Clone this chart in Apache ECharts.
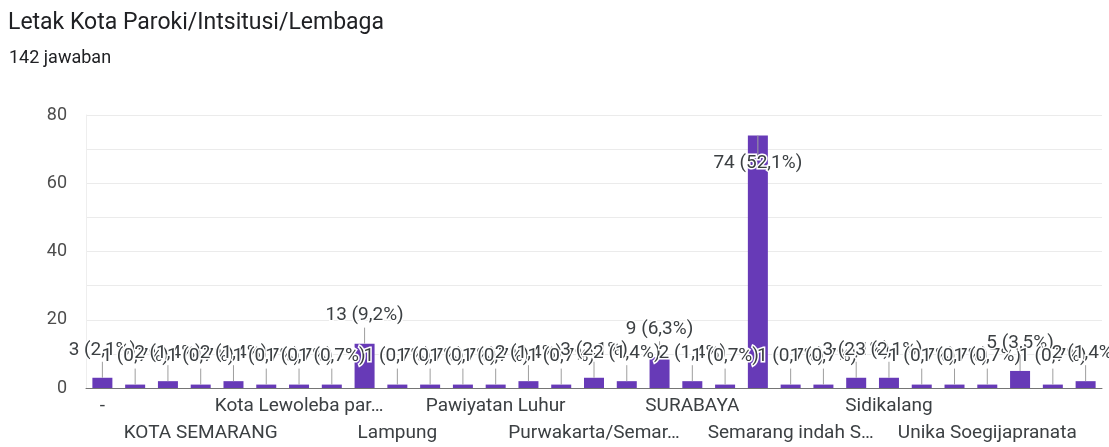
<!DOCTYPE html>
<html><head><meta charset="utf-8">
<script src="https://cdn.jsdelivr.net/npm/echarts@6/dist/echarts.min.js"></script>
<style>html,body{margin:0;padding:0;background:#fff}#c{width:1109px;height:447px}</style>
</head><body><div id="c"></div>
<script>
const titleText = 'Letak Kota Paroki/Intsitusi/Lembaga';
const subtitleText = '142 jawaban';
const categories = ['-', 'Bandung', 'Jakarta', 'KOTA SEMARANG', 'Kediri', 'Klaten',
  'Kota Lewoleba par…', 'Kota Malang', 'Kota Semarang', 'Lampung', 'Magelang', 'Malang',
  'Pawiyatan Luhur', 'Pekalongan', 'Pontianak', 'Purwakarta/Semar…', 'Purwokerto', 'SEMARANG',
  'SURABAYA', 'Salatiga', 'Semarang', 'Semarang indah S…', 'Semarang kota', 'Semarang, Jawa Tengah',
  'Sidikalang', 'Solo', 'Surakarta', 'Unika Soegijapranata', 'Yogyakarta', 'semarang', 'u…'];
const counts = [3, 1, 2, 1, 2, 1, 1, 1, 13, 1, 1, 1, 1, 2, 1, 3, 2, 9, 2, 1, 74, 1, 1, 3, 3, 1, 1, 1, 5, 1, 2];
const yTickLabels = [0, 20, 40, 60, 80];

const total = counts.reduce((a, b) => a + b, 0);
const FONT = 'Roboto, "Noto Sans", sans-serif';
function labelOf(v) { return v + ' (' + (v / total * 100).toFixed(1).replace('.', ',') + '%)'; }

const chart = echarts.init(document.getElementById('c'));
chart.setOption({
  animation: false,
  title: [
    { text: titleText, left: 3, top: 7, textStyle: { fontSize: 23, fontWeight: 'normal', color: '#202124', fontFamily: FONT } },
    { text: subtitleText, left: 4, top: 44, textStyle: { fontSize: 18, fontWeight: 'normal', color: '#202124', fontFamily: FONT } }
  ],
  grid: { left: 86, right: 7, top: 115, bottom: 47, containLabel: false },
  xAxis: {
    type: 'category', data: categories,
    axisTick: { show: false },
    axisLine: { lineStyle: { color: '#757575', width: 1 } },
    axisLabel: {
      interval: 2, margin: 5, fontSize: 19, lineHeight: 27, color: '#3c4043', fontFamily: FONT,
      formatter: function (val, idx) { return (Math.round(idx / 3) % 2 === 1) ? '\n' + val : val; }
    }
  },
  yAxis: {
    type: 'value', min: 0, max: 80, interval: 10,
    axisLine: { show: true, lineStyle: { color: '#eeeeee' } },
    axisTick: { show: false },
    splitLine: { lineStyle: { color: '#ebebeb' } },
    axisLabel: {
      fontSize: 18, color: '#4d4d4d', fontFamily: FONT, margin: 19,
      formatter: function (v) { return yTickLabels.indexOf(v) >= 0 ? String(v) : ''; }
    }
  },
  series: [
    { type: 'bar', data: counts, barWidth: 20, itemStyle: { color: '#673ab7' } },
    {
      type: 'custom', data: counts.map((v, i) => [i, v]), z: 5,
      renderItem: function (params, api) {
        const i = api.value(0), v = api.value(1);
        const p = api.coord([i, v]);
        const flip = p[1] - 40 < params.coordSys.y;
        const dir = flip ? 1 : -1;
        const stem = flip ? 22 : 16;
        return {
          type: 'group', children: [
            { type: 'line', shape: { x1: p[0], y1: p[1], x2: p[0], y2: p[1] + dir * stem }, style: { stroke: '#9e9e9e', lineWidth: 1 } },
            { type: 'text', x: p[0], y: p[1] + dir * 28, style: { text: labelOf(v), align: 'center', verticalAlign: 'middle', fontSize: 19, fontFamily: FONT, fill: '#3c4043', stroke: '#ffffff', lineWidth: 3 } }
          ]
        };
      }
    }
  ]
});
</script></body></html>
